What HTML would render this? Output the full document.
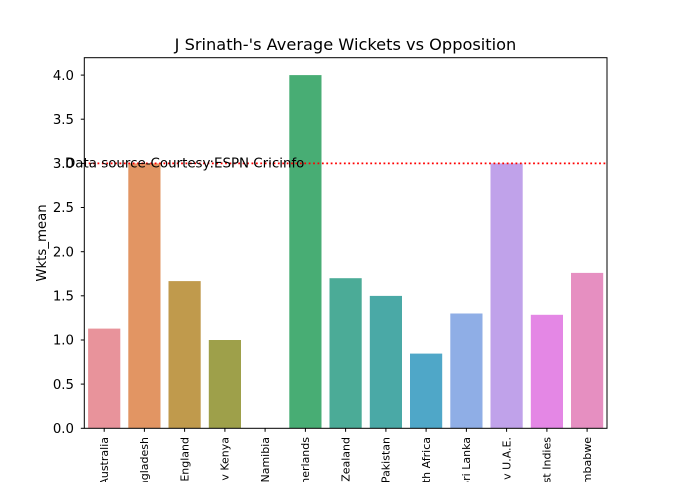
<!DOCTYPE html>
<html><head><meta charset="utf-8"><style>html,body{margin:0;background:#fff;overflow:hidden;width:675px;height:482px}svg{display:block;font-family:"DejaVu Sans","Liberation Sans",sans-serif}</style></head>
<body>
<svg width="675" height="482" viewBox="0 0 675 482" overflow="hidden">
<rect width="675" height="482" fill="#fff"/>
<text x="345.5" y="50" font-size="16.2" text-anchor="middle" fill="#000">J Srinath-'s Average Wickets vs Opposition</text>
<g>
<rect x="88.1" y="328.6" width="32.2" height="99.7" fill="#e8939b"/>
<rect x="128.3" y="163.4" width="32.2" height="264.9" fill="#e29563"/>
<rect x="168.5" y="281.1" width="32.2" height="147.2" fill="#c09a4c"/>
<rect x="208.8" y="340.0" width="32.2" height="88.3" fill="#9ea04a"/>
<rect x="289.3" y="75.1" width="32.2" height="353.2" fill="#48ad74"/>
<rect x="329.5" y="278.2" width="32.2" height="150.1" fill="#4bab97"/>
<rect x="369.8" y="295.9" width="32.2" height="132.4" fill="#4aa9a6"/>
<rect x="410.0" y="353.6" width="32.2" height="74.7" fill="#4fa7c8"/>
<rect x="450.3" y="313.5" width="32.2" height="114.8" fill="#8faee6"/>
<rect x="490.5" y="163.4" width="32.2" height="264.9" fill="#c0a2ea"/>
<rect x="530.8" y="314.8" width="32.2" height="113.5" fill="#e487e5"/>
<rect x="571.0" y="272.9" width="32.2" height="155.4" fill="#e68fc1"/>
</g>
<line x1="84.3" y1="163.4" x2="607" y2="163.4" stroke="#ff0000" stroke-width="1.8" stroke-dasharray="1.8,2.6"/>
<text x="65" y="167.5" font-size="13.4" fill="#000">Data source-Courtesy:ESPN Cricinfo</text>
<rect x="84.3" y="57.7" width="522.7" height="370.6" fill="none" stroke="#000" stroke-width="1"/>
<g font-size="13.3" text-anchor="end" fill="#000">
<line x1="80.8" x2="84.3" y1="428.3" y2="428.3" stroke="#000"/><text x="74" y="433">0.0</text>
<line x1="80.8" x2="84.3" y1="384.1" y2="384.1" stroke="#000"/><text x="74" y="388.8">0.5</text>
<line x1="80.8" x2="84.3" y1="340.0" y2="340.0" stroke="#000"/><text x="74" y="344.7">1.0</text>
<line x1="80.8" x2="84.3" y1="295.8" y2="295.8" stroke="#000"/><text x="74" y="300.5">1.5</text>
<line x1="80.8" x2="84.3" y1="251.7" y2="251.7" stroke="#000"/><text x="74" y="256.4">2.0</text>
<line x1="80.8" x2="84.3" y1="207.5" y2="207.5" stroke="#000"/><text x="74" y="212.2">2.5</text>
<line x1="80.8" x2="84.3" y1="163.4" y2="163.4" stroke="#000"/><text x="74" y="168.1">3.0</text>
<line x1="80.8" x2="84.3" y1="119.2" y2="119.2" stroke="#000"/><text x="74" y="123.9">3.5</text>
<line x1="80.8" x2="84.3" y1="75.1" y2="75.1" stroke="#000"/><text x="74" y="79.8">4.0</text>
</g>
<text transform="translate(46,243) rotate(-90)" font-size="13.3" text-anchor="middle">Wkts_mean</text>
<g font-size="11" text-anchor="end" fill="#000">
<g stroke="#000"><line x1="104.2" x2="104.2" y1="428.3" y2="431.8"/><line x1="144.4" x2="144.4" y1="428.3" y2="431.8"/><line x1="184.6" x2="184.6" y1="428.3" y2="431.8"/><line x1="224.9" x2="224.9" y1="428.3" y2="431.8"/><line x1="265.1" x2="265.1" y1="428.3" y2="431.8"/><line x1="305.4" x2="305.4" y1="428.3" y2="431.8"/><line x1="345.6" x2="345.6" y1="428.3" y2="431.8"/><line x1="385.9" x2="385.9" y1="428.3" y2="431.8"/><line x1="426.1" x2="426.1" y1="428.3" y2="431.8"/><line x1="466.4" x2="466.4" y1="428.3" y2="431.8"/><line x1="506.6" x2="506.6" y1="428.3" y2="431.8"/><line x1="546.9" x2="546.9" y1="428.3" y2="431.8"/><line x1="587.1" x2="587.1" y1="428.3" y2="431.8"/></g>
<text transform="translate(108,437) rotate(-90)">v Australia</text>
<text transform="translate(148.2,437) rotate(-90)">v Bangladesh</text>
<text transform="translate(188.4,437) rotate(-90)">v England</text>
<text transform="translate(228.7,437) rotate(-90)">v Kenya</text>
<text transform="translate(268.9,437) rotate(-90)">v Namibia</text>
<text transform="translate(309.2,437) rotate(-90)">v Netherlands</text>
<text transform="translate(349.4,437) rotate(-90)">v New Zealand</text>
<text transform="translate(389.7,437) rotate(-90)">v Pakistan</text>
<text transform="translate(429.9,437) rotate(-90)">v South Africa</text>
<text transform="translate(470.2,437) rotate(-90)">v Sri Lanka</text>
<text transform="translate(510.4,437) rotate(-90)">v U.A.E.</text>
<text transform="translate(550.7,437) rotate(-90)">v West Indies</text>
<text transform="translate(590.9,437) rotate(-90)">v Zimbabwe</text>
</g>
</svg>
</body></html>
